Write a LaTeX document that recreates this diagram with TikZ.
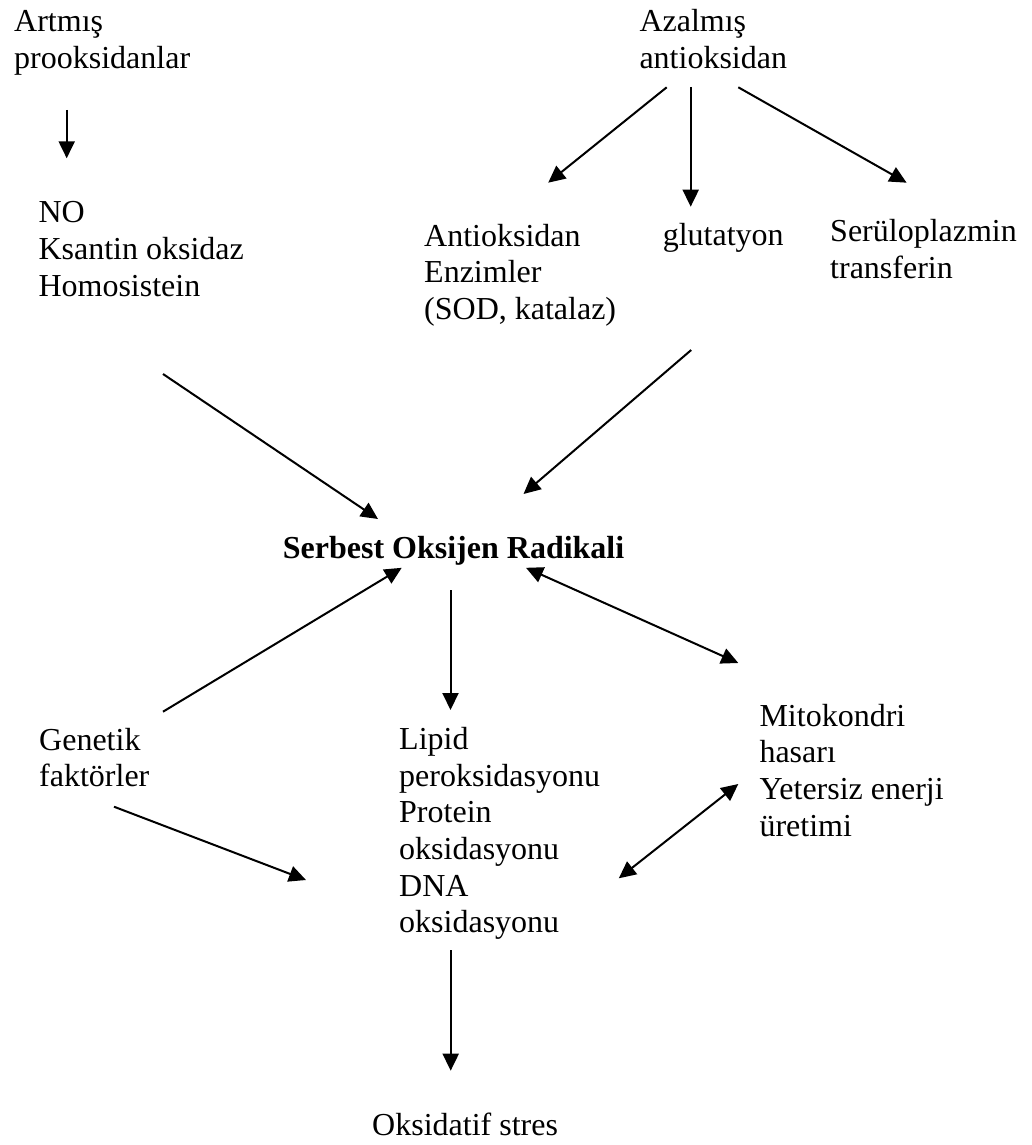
\documentclass[tikz,border=0pt]{standalone}
\usepackage{fontspec}
\setmainfont{Liberation Serif}
\usetikzlibrary{arrows.meta}
\begin{document}
\begin{tikzpicture}[x=1pt,y=-1pt,
  lbl/.style={anchor=base west,inner sep=0pt,align=left,font=\fontsize{32}{36.7}\selectfont},
  tipshape/.style={},
  conn/.style={line width=2pt,-{Triangle[length=17pt,width=16pt]}},
  dconn/.style={line width=2pt,{Triangle[length=17pt,width=16pt]}-{Triangle[length=17pt,width=16pt]}}]
\useasboundingbox (0,0) rectangle (1032,1145);
% texts (positions: left edge, baseline of last line)
\node[lbl] (artmis) at (14,68.4) {Artmış\\prooksidanlar};
\node[lbl] (azalmis) at (639.3,68.4) {Azalmış\\antioksidan};
\node[lbl] (no) at (38.3,296.1) {NO\\Ksantin oksidaz\\Homosistein};
\node[lbl] (enz) at (424,319.4) {Antioksidan\\Enzimler\\(SOD, katalaz)};
\node[lbl] (glut) at (662.6,245) {glutatyon};
\node[lbl] (seru) at (830,278.4) {Serüloplazmin\\transferin};
\node[lbl,font=\fontsize{32}{36.7}\selectfont\bfseries] (sor) at (282.7,558) {Serbest Oksijen Radikali};
\node[lbl] (gen) at (39,786.7) {Genetik\\faktörler};
\node[lbl] (lipid) at (399,932.8) {Lipid\\peroksidasyonu\\Protein\\oksidasyonu\\DNA\\oksidasyonu};
\node[lbl] (mito) at (759.3,836.1) {Mitokondri\\hasarı\\Yetersiz enerji\\üretimi};
\node[lbl] (oks) at (372,1135) {Oksidatif stres};
% connector end points
\coordinate (a1s) at (66.7,110);   \coordinate (a1e) at (66.7,158.3);
\coordinate (a2s) at (666.7,87.3); \coordinate (a2e) at (548.2,182.7);
\coordinate (a3s) at (690.7,87);   \coordinate (a3e) at (690.7,206.7);
\coordinate (a4s) at (738.3,87.3); \coordinate (a4e) at (906.6,182.7);
\coordinate (a5s) at (163,374);    \coordinate (a5e) at (378,519);
\coordinate (a6s) at (691.2,350);  \coordinate (a6e) at (523.5,494);
\coordinate (a7s) at (163,711.7);  \coordinate (a7e) at (401.7,567.8);
\coordinate (a8s) at (450.5,590);  \coordinate (a8e) at (450.5,710);
\coordinate (a9s) at (526,567.8);  \coordinate (a9e) at (738.3,663);
\coordinate (a10s) at (114,806.7); \coordinate (a10e) at (306,880);
\coordinate (a11s) at (738.3,784); \coordinate (a11e) at (618.8,878.3);
\coordinate (a12s) at (450.7,950); \coordinate (a12e) at (450.7,1070.7);
% connectors
\draw[conn] (a1s) -- (a1e);
\draw[conn] (a2s) -- (a2e);
\draw[conn] (a3s) -- (a3e);
\draw[conn] (a4s) -- (a4e);
\draw[conn] (a5s) -- (a5e);
\draw[conn] (a6s) -- (a6e);
\draw[conn] (a7s) -- (a7e);
\draw[conn] (a8s) -- (a8e);
\draw[dconn] (a9s) -- (a9e);
\draw[conn] (a10s) -- (a10e);
\draw[dconn] (a11s) -- (a11e);
\draw[conn] (a12s) -- (a12e);
\end{tikzpicture}
\end{document}
